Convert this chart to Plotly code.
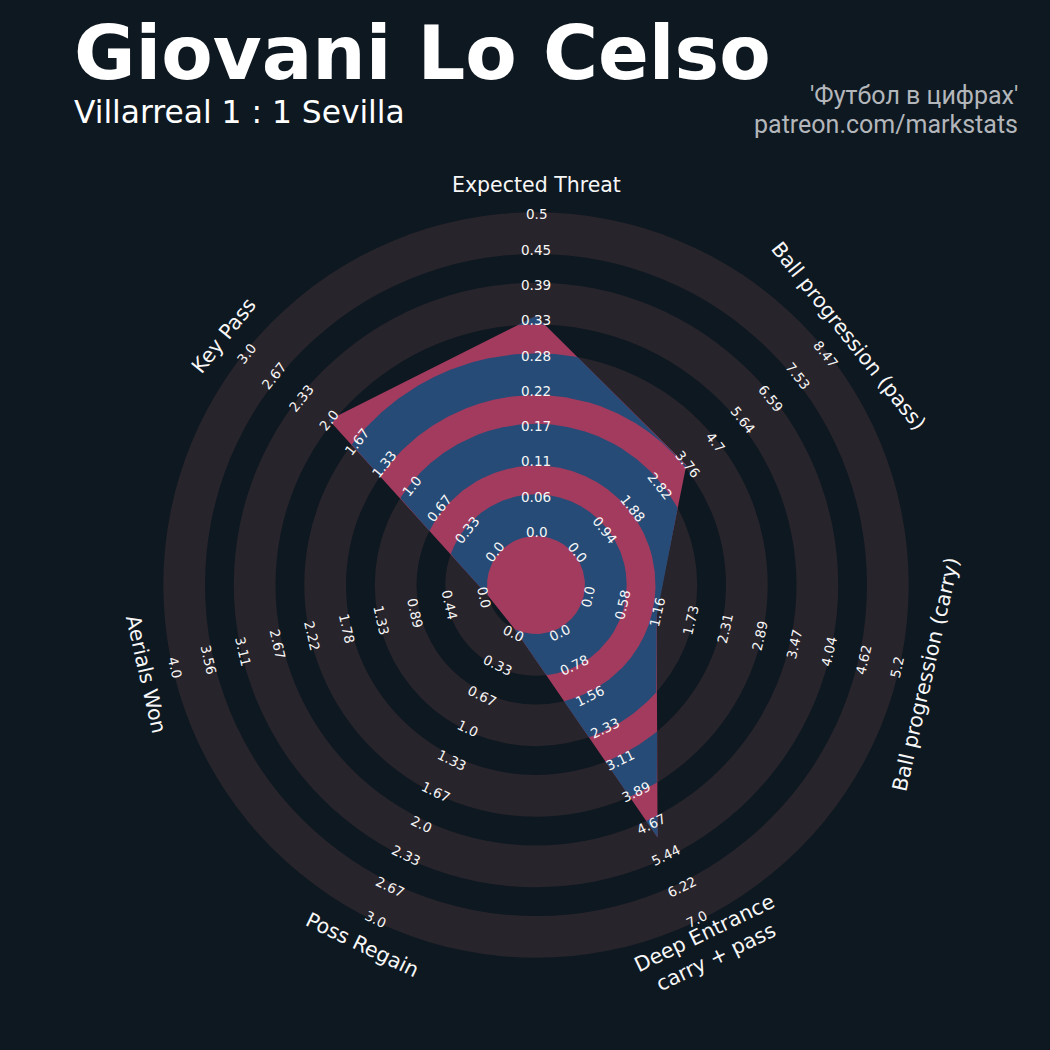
import numpy as np
import plotly.graph_objects as go

# ---------------- data ----------------
params = ["Expected Threat", "Ball progression (pass)", "Ball progression (carry)",
          "Deep Entrance<br>carry + pass", "Poss Regain", "Aerials Won", "Key Pass"]
values = [0.34, 3.75, 1.2, 5.0, 0.0, 0.0, 2.0]
low = [0.0, 0.0, 0.0, 0.0, 0.0, 0.0, 0.0]
high = [0.5, 8.47, 5.2, 7.0, 3.0, 4.0, 3.0]
range_labels = [
    ["0.0", "0.06", "0.11", "0.17", "0.22", "0.28", "0.33", "0.39", "0.45", "0.5"],
    ["0.0", "0.94", "1.88", "2.82", "3.76", "4.7", "5.64", "6.59", "7.53", "8.47"],
    ["0.0", "0.58", "1.16", "1.73", "2.31", "2.89", "3.47", "4.04", "4.62", "5.2"],
    ["0.0", "0.78", "1.56", "2.33", "3.11", "3.89", "4.67", "5.44", "6.22", "7.0"],
    ["0.0", "0.33", "0.67", "1.0", "1.33", "1.67", "2.0", "2.33", "2.67", "3.0"],
    ["0.0", "0.44", "0.89", "1.33", "1.78", "2.22", "2.67", "3.11", "3.56", "4.0"],
    ["0.0", "0.33", "0.67", "1.0", "1.33", "1.67", "2.0", "2.33", "2.67", "3.0"],
]
title = "Giovani Lo Celso"
subtitle = "Villarreal 1 : 1 Sevilla"
credit1 = "'Футбол в цифрах'"
credit2 = "patreon.com/markstats"

# ---------------- style / geometry ----------------
W = H = 1050
CX, CY = 536, 585          # centre in pixels (from top-left)
R_IN, R_OUT = 49.0, 372.7  # centre circle radius, outer radius
BAND_W, BAND_STEP = 41.7, 70.5
BG = "#0e1821"
RING = "#28242b"
PINK = "#a33b5f"
BLUE = "#264b76"
TXT = "#f7f7f7"
FONT = "DejaVu Sans"

n = len(params)
theta = np.deg2rad(90 - np.arange(n) * 360.0 / n)


def scale(v, lo, hi):
    return R_IN + (v - lo) / (hi - lo) * (R_OUT - R_IN)


rv = np.array([scale(v, lo, hi) for v, lo, hi in zip(values, low, high)])
px = rv * np.cos(theta)
py = rv * np.sin(theta)

fig = go.Figure()

# rings (alternating filled discs, outermost first)
band_starts = [R_IN + k * BAND_STEP for k in range(5)]
shapes = []
for a in reversed(band_starts):
    b = a + BAND_W
    shapes.append(dict(type="circle", xref="x", yref="y", x0=-b, y0=-b, x1=b, y1=b,
                       fillcolor=RING, line=dict(width=0), layer="below"))
    shapes.append(dict(type="circle", xref="x", yref="y", x0=-a, y0=-a, x1=a, y1=a,
                       fillcolor=BG, line=dict(width=0), layer="below"))

# radar polygon
fig.add_trace(go.Scatter(x=list(px) + [px[0]], y=list(py) + [py[0]], mode="lines",
                         fill="toself", fillcolor=PINK, line=dict(width=0),
                         hoverinfo="skip", showlegend=False))

# ring sections inside the polygon
N = n * 720
th = np.pi / 2 - np.arange(N) * 2 * np.pi / N
sector = np.floor(((np.pi / 2 - th) % (2 * np.pi)) / (2 * np.pi / n) + 1e-9).astype(int) % n
R = np.zeros(N)
dx, dy = np.cos(th), np.sin(th)
for i in range(n):
    j = (i + 1) % n
    ex, ey = px[j] - px[i], py[j] - py[i]
    m = sector == i
    R[m] = (px[i] * ey - py[i] * ex) / (dx[m] * ey - dy[m] * ex)

for a in band_starts:
    b = a + BAND_W
    valid = R > a + 1e-6
    if valid.all():
        continue
    k0 = int(np.argmin(valid))
    idx = np.roll(np.arange(N), -k0)
    v = valid[idx]
    runs = []
    s = None
    for t in range(N):
        if v[t] and s is None:
            s = t
        if not v[t] and s is not None:
            runs.append((s, t - 1))
            s = None
    if s is not None:
        runs.append((s, N - 1))
    for s, e in runs:
        ii = idx[[(t % N) for t in range(s - 1, e + 2)]]
        ro = np.clip(R[ii], a, b)
        tt = th[ii]
        xs = np.concatenate([ro * np.cos(tt), a * np.cos(tt[::-1])])
        ys = np.concatenate([ro * np.sin(tt), a * np.sin(tt[::-1])])
        fig.add_trace(go.Scatter(x=np.append(xs, xs[0]), y=np.append(ys, ys[0]), mode="lines",
                                 fill="toself", fillcolor=BLUE, line=dict(width=0),
                                 hoverinfo="skip", showlegend=False))

annotations = []


def rot_of(deg):
    deg = (deg + 180) % 360 - 180
    return deg - 90 if deg >= 0 else deg + 90


# range labels
for i in range(n):
    deg = np.rad2deg(theta[i])
    rot = rot_of(deg)
    for k, lab in enumerate(range_labels[i]):
        r = 53 + k * 35.3
        annotations.append(dict(x=r * np.cos(theta[i]), y=r * np.sin(theta[i]), xref="x", yref="y",
                                text=lab, showarrow=False, textangle=-rot,
                                xanchor="center", yanchor="middle",
                                font=dict(family=FONT, size=13.5, color=TXT)))

# parameter labels
for i in range(n):
    deg = np.rad2deg(theta[i])
    rot = rot_of(deg)
    r = 400
    annotations.append(dict(x=r * np.cos(theta[i]), y=r * np.sin(theta[i]), xref="x", yref="y",
                            text=params[i], showarrow=False, textangle=-rot,
                            xanchor="center", yanchor="middle",
                            font=dict(family=FONT, size=20.5, color=TXT)))


def pxx(x):
    return x / W


def pxy(y):
    return 1 - y / H


annotations += [
    dict(x=pxx(72), y=pxy(53), xref="paper", yref="paper", text="<b>" + title + "</b>",
         showarrow=False, xanchor="left", yanchor="middle",
         font=dict(family=FONT, size=75, color="#ffffff")),
    dict(x=pxx(72), y=pxy(112), xref="paper", yref="paper", text=subtitle,
         showarrow=False, xanchor="left", yanchor="middle",
         font=dict(family=FONT, size=31.3, color="#ffffff")),
    dict(x=pxx(1020), y=pxy(96), xref="paper", yref="paper", text=credit1,
         showarrow=False, xanchor="right", yanchor="middle",
         font=dict(family="Roboto", size=25, color="#b3b6ba")),
    dict(x=pxx(1020), y=pxy(124), xref="paper", yref="paper", text=credit2,
         showarrow=False, xanchor="right", yanchor="middle",
         font=dict(family="Roboto", size=25, color="#b3b6ba")),
]

fig.update_layout(
    width=W, height=H, margin=dict(l=0, r=0, t=0, b=0),
    paper_bgcolor=BG, plot_bgcolor=BG,
    xaxis=dict(range=[-CX, W - CX], visible=False, fixedrange=True),
    yaxis=dict(range=[-(H - CY), CY], visible=False, fixedrange=True),
    shapes=shapes, annotations=annotations, showlegend=False,
)

fig.write_html("out.html", config={"displayModeBar": False},
               post_script="document.body.style.margin='0';document.body.style.background='" + BG + "';")
